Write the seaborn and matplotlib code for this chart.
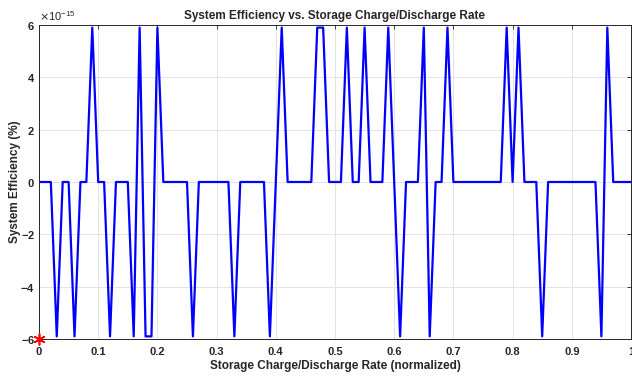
import numpy as np
import pandas as pd
import matplotlib
matplotlib.use("Agg")
import matplotlib.pyplot as plt
import seaborn as sns
from matplotlib.ticker import ScalarFormatter, FuncFormatter

# ---- data ----
rate = [round(i * 0.01, 2) for i in range(101)]
P, N = 5.9e-15, -5.9e-15
efficiency = [
    0, 0, 0, N, 0, 0, N, 0, 0, P,        # 0.00-0.09
    0, 0, N, 0, 0, 0, N, P, N, N,        # 0.10-0.19
    P, 0, 0, 0, 0, 0, N, 0, 0, 0,        # 0.20-0.29
    0, 0, 0, N, 0, 0, 0, 0, 0, N,        # 0.30-0.39
    0, P, 0, 0, 0, 0, 0, P, P, 0,        # 0.40-0.49
    0, 0, P, 0, 0, P, 0, 0, 0, P,        # 0.50-0.59
    0, N, 0, 0, 0, P, N, 0, 0, P,        # 0.60-0.69
    0, 0, 0, 0, 0, 0, 0, 0, 0, P,        # 0.70-0.79
    0, P, 0, 0, 0, N, 0, 0, 0, 0,        # 0.80-0.89
    0, 0, 0, 0, 0, N, P, 0, 0, 0,        # 0.90-0.99
    0,                                   # 1.00
]
marker_x = [0.0]
marker_y = [-6e-15]
x_ticks = [0, 0.1, 0.2, 0.3, 0.4, 0.5, 0.6, 0.7, 0.8, 0.9, 1]
y_ticks = [-6e-15, -4e-15, -2e-15, 0, 2e-15, 4e-15, 6e-15]

title = "System Efficiency vs. Storage Charge/Discharge Rate"
xlabel = "Storage Charge/Discharge Rate (normalized)"
ylabel = "System Efficiency (%)"

df = pd.DataFrame({"rate": rate, "eff": efficiency})
mk = pd.DataFrame({"x": marker_x, "y": marker_y})

sns.set_style("white")
plt.rcParams["font.family"] = ["Liberation Sans", "DejaVu Sans"]
plt.rcParams["axes.unicode_minus"] = False

fig = plt.figure(figsize=(6.32, 3.76), dpi=100)
ax = fig.add_axes([39 / 632, 1 - 339 / 376, 592 / 632, (339 - 25) / 376])

sns.lineplot(data=df, x="rate", y="eff", ax=ax, color=(0, 0, 1), linewidth=1.6,
             estimator=None, sort=False)
sns.scatterplot(data=mk, x="x", y="y", ax=ax, color="red", marker=(6, 2, 0),
                s=60, linewidth=1.2, edgecolor="red", zorder=5, clip_on=False)

ax.set_xlim(0, 1)
ax.set_ylim(-6e-15, 6e-15)
ax.set_xticks(x_ticks)
ax.set_yticks(y_ticks)
ax.xaxis.set_major_formatter(FuncFormatter(lambda v, p: "%g" % round(v, 2)))
fmt = ScalarFormatter(useMathText=True)
fmt.set_powerlimits((0, 0))
ax.yaxis.set_major_formatter(fmt)
ax.yaxis.get_offset_text().set_fontsize(8)
ax.yaxis.get_offset_text().set_fontweight("normal")

ax.grid(True, color="#e3e3e3", linewidth=0.7)
ax.set_axisbelow(True)
for s in ax.spines.values():
    s.set_color("#262626")
    s.set_linewidth(0.7)
ax.tick_params(direction="in", length=3, width=0.6, top=True, right=True,
               labelsize=8, colors="#262626", pad=3)
ax.tick_params(axis="x", pad=6)
for lab in ax.get_xticklabels() + ax.get_yticklabels():
    lab.set_fontweight("bold")

ax.set_title(title, fontsize=8.5, fontweight="bold", pad=4)
ax.set_xlabel(xlabel, fontsize=8.5, fontweight="bold")
ax.set_ylabel(ylabel, fontsize=8.5, fontweight="bold")
ax.yaxis.set_label_coords(-0.031, 0.5)
ax.xaxis.set_label_coords(0.5, -0.068)

fig.savefig("out.png", dpi=100)
